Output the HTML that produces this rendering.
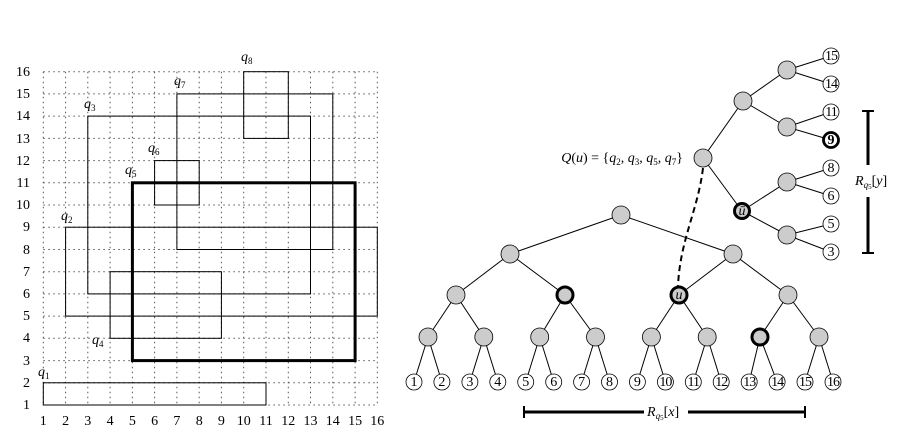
<!DOCTYPE html>
<html><head><meta charset="utf-8"><style>
body{margin:0;background:#fff}
svg{display:block}
text{font-family:"Liberation Serif",serif;font-size:14px;fill:#000}
.it{font-style:italic}
.g line{stroke:#555;stroke-width:1;stroke-dasharray:1.5 3.5}
.r{fill:none;stroke:#000;stroke-width:1}
.e line{stroke:#000;stroke-width:1}
.n{fill:#ccc;stroke:#000;stroke-width:0.8}
.nb{fill:#ccc;stroke:#000;stroke-width:3}
.l{fill:#fff;stroke:#000;stroke-width:0.8}
</style></head><body>
<svg width="902" height="440" viewBox="0 0 902 440">
<g class="g">
<line x1="43.3" y1="71.7" x2="43.3" y2="405"/><line x1="65.6" y1="71.7" x2="65.6" y2="405"/><line x1="87.8" y1="71.7" x2="87.8" y2="405"/><line x1="110.1" y1="71.7" x2="110.1" y2="405"/><line x1="132.4" y1="71.7" x2="132.4" y2="405"/><line x1="154.6" y1="71.7" x2="154.6" y2="405"/><line x1="176.9" y1="71.7" x2="176.9" y2="405"/><line x1="199.2" y1="71.7" x2="199.2" y2="405"/><line x1="221.4" y1="71.7" x2="221.4" y2="405"/><line x1="243.7" y1="71.7" x2="243.7" y2="405"/><line x1="266" y1="71.7" x2="266" y2="405"/><line x1="288.3" y1="71.7" x2="288.3" y2="405"/><line x1="310.5" y1="71.7" x2="310.5" y2="405"/><line x1="332.8" y1="71.7" x2="332.8" y2="405"/><line x1="355.1" y1="71.7" x2="355.1" y2="405"/><line x1="377.3" y1="71.7" x2="377.3" y2="405"/>
<line x1="43.3" y1="405" x2="377.3" y2="405"/><line x1="43.3" y1="382.8" x2="377.3" y2="382.8"/><line x1="43.3" y1="360.6" x2="377.3" y2="360.6"/><line x1="43.3" y1="338.3" x2="377.3" y2="338.3"/><line x1="43.3" y1="316.1" x2="377.3" y2="316.1"/><line x1="43.3" y1="293.9" x2="377.3" y2="293.9"/><line x1="43.3" y1="271.7" x2="377.3" y2="271.7"/><line x1="43.3" y1="249.5" x2="377.3" y2="249.5"/><line x1="43.3" y1="227.2" x2="377.3" y2="227.2"/><line x1="43.3" y1="205" x2="377.3" y2="205"/><line x1="43.3" y1="182.8" x2="377.3" y2="182.8"/><line x1="43.3" y1="160.6" x2="377.3" y2="160.6"/><line x1="43.3" y1="138.4" x2="377.3" y2="138.4"/><line x1="43.3" y1="116.1" x2="377.3" y2="116.1"/><line x1="43.3" y1="93.9" x2="377.3" y2="93.9"/><line x1="43.3" y1="71.7" x2="377.3" y2="71.7"/>
</g>
<rect class="r" x="43.3" y="382.8" width="222.7" height="22.2"/>
<rect class="r" x="65.6" y="227.2" width="311.7" height="88.9"/>
<rect class="r" x="87.8" y="116.1" width="222.7" height="177.8"/>
<rect class="r" x="110.1" y="271.7" width="111.3" height="66.6"/>
<rect class="r" x="132.4" y="182.8" width="222.7" height="177.8" style="stroke-width:3"/>
<rect class="r" x="154.6" y="160.6" width="44.6" height="44.4"/>
<rect class="r" x="176.9" y="93.9" width="155.9" height="155.6"/>
<rect class="r" x="243.7" y="71.7" width="44.6" height="66.7"/>
<g class="it">
<text x="38" y="376">q<tspan font-size="9" dy="3" font-style="normal">1</tspan></text>
<text x="61" y="220">q<tspan font-size="9" dy="3" font-style="normal">2</tspan></text>
<text x="84" y="108">q<tspan font-size="9" dy="3" font-style="normal">3</tspan></text>
<text x="92" y="344">q<tspan font-size="9" dy="3" font-style="normal">4</tspan></text>
<text x="125" y="174">q<tspan font-size="9" dy="3" font-style="normal">5</tspan></text>
<text x="148" y="152">q<tspan font-size="9" dy="3" font-style="normal">6</tspan></text>
<text x="174" y="85">q<tspan font-size="9" dy="3" font-style="normal">7</tspan></text>
<text x="241" y="61">q<tspan font-size="9" dy="3" font-style="normal">8</tspan></text>
</g>
<g text-anchor="middle">
<text x="43.3" y="425">1</text><text x="65.6" y="425">2</text><text x="87.8" y="425">3</text><text x="110.1" y="425">4</text><text x="132.4" y="425">5</text><text x="154.6" y="425">6</text><text x="176.9" y="425">7</text><text x="199.2" y="425">8</text><text x="221.4" y="425">9</text><text x="243.7" y="425">10</text><text x="266" y="425">11</text><text x="288.3" y="425">12</text><text x="310.5" y="425">13</text><text x="332.8" y="425">14</text><text x="355.1" y="425">15</text><text x="377.3" y="425">16</text>
</g>
<g text-anchor="end">
<text x="30" y="409">1</text><text x="30" y="387">2</text><text x="30" y="365">3</text><text x="30" y="342">4</text><text x="30" y="320">5</text><text x="30" y="298">6</text><text x="30" y="276">7</text><text x="30" y="254">8</text><text x="30" y="231">9</text><text x="30" y="209">10</text><text x="30" y="187">11</text><text x="30" y="165">12</text><text x="30" y="143">13</text><text x="30" y="120">14</text><text x="30" y="98">15</text><text x="30" y="76">16</text>
</g>

<g class="e">
<line x1="621" y1="215" x2="510" y2="254"/><line x1="621" y1="215" x2="733" y2="254"/>
<line x1="510" y1="254" x2="456" y2="295"/><line x1="510" y1="254" x2="565" y2="295"/>
<line x1="733" y1="254" x2="679" y2="295"/><line x1="733" y1="254" x2="788" y2="295"/>
<line x1="456" y1="295" x2="428" y2="337"/><line x1="456" y1="295" x2="483.8" y2="337"/>
<line x1="565" y1="295" x2="539.7" y2="337"/><line x1="565" y1="295" x2="595.5" y2="337"/>
<line x1="679" y1="295" x2="651.4" y2="337"/><line x1="679" y1="295" x2="707.2" y2="337"/>
<line x1="788" y1="295" x2="760" y2="337"/><line x1="788" y1="295" x2="819" y2="337"/>
<line x1="428" y1="337" x2="414" y2="382"/><line x1="428" y1="337" x2="441.9" y2="382"/>
<line x1="483.8" y1="337" x2="469.9" y2="382"/><line x1="483.8" y1="337" x2="497.8" y2="382"/>
<line x1="539.7" y1="337" x2="525.7" y2="382"/><line x1="539.7" y1="337" x2="553.7" y2="382"/>
<line x1="595.5" y1="337" x2="581.6" y2="382"/><line x1="595.5" y1="337" x2="609.5" y2="382"/>
<line x1="651.4" y1="337" x2="637.4" y2="382"/><line x1="651.4" y1="337" x2="665.4" y2="382"/>
<line x1="707.2" y1="337" x2="693.3" y2="382"/><line x1="707.2" y1="337" x2="721.2" y2="382"/>
<line x1="760" y1="337" x2="749.2" y2="382"/><line x1="760" y1="337" x2="777.1" y2="382"/>
<line x1="819" y1="337" x2="805" y2="382"/><line x1="819" y1="337" x2="833" y2="382"/>
<line x1="703" y1="158" x2="743" y2="101"/><line x1="703" y1="158" x2="742" y2="211"/>
<line x1="743" y1="101" x2="787" y2="70"/><line x1="743" y1="101" x2="787" y2="127"/>
<line x1="742" y1="211" x2="787" y2="182"/><line x1="742" y1="211" x2="787" y2="235"/>
<line x1="787" y1="70" x2="831" y2="56"/><line x1="787" y1="70" x2="831" y2="84"/>
<line x1="787" y1="127" x2="831" y2="112"/><line x1="787" y1="127" x2="831" y2="140"/>
<line x1="787" y1="182" x2="831" y2="168"/><line x1="787" y1="182" x2="831" y2="196"/>
<line x1="787" y1="235" x2="831" y2="224"/><line x1="787" y1="235" x2="831" y2="252"/>
</g>
<path d="M703,168 C698,210 680,240 678,286" fill="none" stroke="#000" stroke-width="2" stroke-dasharray="6 4"/>

<g>
<circle class="n" cx="621" cy="215" r="9"/>
<circle class="n" cx="510" cy="254" r="9"/><circle class="n" cx="733" cy="254" r="9"/>
<circle class="n" cx="456" cy="295" r="9"/><circle class="nb" cx="565" cy="295" r="8"/><circle class="nb" cx="679" cy="295" r="8"/><circle class="n" cx="788" cy="295" r="9"/>
<circle class="n" cx="428" cy="337" r="9"/><circle class="n" cx="483.8" cy="337" r="9"/><circle class="n" cx="539.7" cy="337" r="9"/><circle class="n" cx="595.5" cy="337" r="9"/><circle class="n" cx="651.4" cy="337" r="9"/><circle class="n" cx="707.2" cy="337" r="9"/><circle class="nb" cx="760" cy="337" r="8"/><circle class="n" cx="819" cy="337" r="9"/>
<circle class="n" cx="703" cy="158" r="9"/><circle class="n" cx="743" cy="101" r="9"/><circle class="nb" cx="742" cy="211" r="7.5"/>
<circle class="n" cx="787" cy="70" r="9"/><circle class="n" cx="787" cy="127" r="9"/><circle class="n" cx="787" cy="182" r="9"/><circle class="n" cx="787" cy="235" r="9"/>
</g>
<text x="679" y="299" text-anchor="middle" class="it" font-size="11">u</text>
<text x="742" y="215" text-anchor="middle" class="it" font-size="11">ū</text>

<g font-size="12" text-anchor="middle">
<circle class="l" cx="414" cy="382" r="8"/><text x="414" y="386">1</text>
<circle class="l" cx="441.9" cy="382" r="8"/><text x="441.9" y="386">2</text>
<circle class="l" cx="469.9" cy="382" r="8"/><text x="469.9" y="386">3</text>
<circle class="l" cx="497.8" cy="382" r="8"/><text x="497.8" y="386">4</text>
<circle class="l" cx="525.7" cy="382" r="8"/><text x="525.7" y="386">5</text>
<circle class="l" cx="553.7" cy="382" r="8"/><text x="553.7" y="386">6</text>
<circle class="l" cx="581.6" cy="382" r="8"/><text x="581.6" y="386">7</text>
<circle class="l" cx="609.5" cy="382" r="8"/><text x="609.5" y="386">8</text>
<circle class="l" cx="637.4" cy="382" r="8"/><text x="637.4" y="386">9</text>
<circle class="l" cx="665.4" cy="382" r="8"/><text x="665.4" y="386" letter-spacing="-1">10</text>
<circle class="l" cx="693.3" cy="382" r="8"/><text x="693.3" y="386" letter-spacing="-1">11</text>
<circle class="l" cx="721.2" cy="382" r="8"/><text x="721.2" y="386" letter-spacing="-1">12</text>
<circle class="l" cx="749.2" cy="382" r="8"/><text x="749.2" y="386" letter-spacing="-1">13</text>
<circle class="l" cx="777.1" cy="382" r="8"/><text x="777.1" y="386" letter-spacing="-1">14</text>
<circle class="l" cx="805" cy="382" r="8"/><text x="805" y="386" letter-spacing="-1">15</text>
<circle class="l" cx="833" cy="382" r="8"/><text x="833" y="386" letter-spacing="-1">16</text>
<circle class="l" cx="831" cy="56" r="8"/><text x="831" y="60" letter-spacing="-1">15</text>
<circle class="l" cx="831" cy="84" r="8"/><text x="831" y="88" letter-spacing="-1">14</text>
<circle class="l" cx="831" cy="112" r="8"/><text x="831" y="116" letter-spacing="-1">11</text>
<circle class="l" cx="831" cy="140" r="7.5" style="stroke-width:2.8"/><text x="831" y="144" font-weight="bold">9</text>
<circle class="l" cx="831" cy="168" r="8"/><text x="831" y="172">8</text>
<circle class="l" cx="831" cy="196" r="8"/><text x="831" y="200">6</text>
<circle class="l" cx="831" cy="224" r="8"/><text x="831" y="228">5</text>
<circle class="l" cx="831" cy="252" r="8"/><text x="831" y="256">3</text>
</g>

<text x="683" y="162" text-anchor="end" font-size="13"><tspan class="it">Q</tspan>(<tspan class="it">u</tspan>) = {<tspan class="it">q</tspan><tspan font-size="9" dy="3">2</tspan><tspan dy="-3">, </tspan><tspan class="it">q</tspan><tspan font-size="9" dy="3">3</tspan><tspan dy="-3">, </tspan><tspan class="it">q</tspan><tspan font-size="9" dy="3">5</tspan><tspan dy="-3">, </tspan><tspan class="it">q</tspan><tspan font-size="9" dy="3">7</tspan><tspan dy="-3">}</tspan></text>

<g stroke="#000">
<line x1="524" y1="412" x2="644" y2="412" stroke-width="3"/>
<line x1="688" y1="412" x2="805" y2="412" stroke-width="3"/>
<line x1="524" y1="406" x2="524" y2="418" stroke-width="2"/>
<line x1="805" y1="406" x2="805" y2="418" stroke-width="2"/>
<line x1="868" y1="111" x2="868" y2="165" stroke-width="3"/>
<line x1="868" y1="197" x2="868" y2="253" stroke-width="3"/>
<line x1="862" y1="111" x2="874" y2="111" stroke-width="2"/>
<line x1="862" y1="253" x2="874" y2="253" stroke-width="2"/>
</g>
<text x="647" y="416"><tspan class="it">R</tspan><tspan class="it" font-size="9" dy="3">q</tspan><tspan font-size="7" dy="1">5</tspan><tspan dy="-4">[</tspan><tspan class="it">x</tspan>]</text>
<text x="855" y="185"><tspan class="it">R</tspan><tspan class="it" font-size="9" dy="3">q</tspan><tspan font-size="7" dy="1">5</tspan><tspan dy="-4">[</tspan><tspan class="it">y</tspan>]</text>
</svg>
</body></html>
